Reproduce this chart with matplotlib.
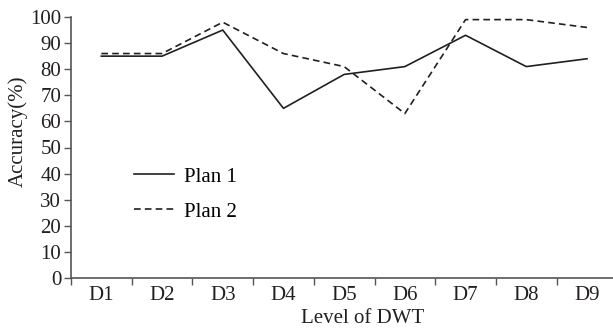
import matplotlib
matplotlib.use("Agg")
import matplotlib.pyplot as plt
import numpy as np

categories = ["D1", "D2", "D3", "D4", "D5", "D6", "D7", "D8", "D9"]
plan1 = [85, 85, 95, 65, 78, 81, 93, 81, 84]
plan2 = [86, 86, 98, 86, 81, 63, 99, 99, 96]
yticks = [0, 10, 20, 30, 40, 50, 60, 70, 80, 90, 100]

plt.rcParams['font.family'] = ['Liberation Serif', 'DejaVu Serif']
fig = plt.figure(figsize=(6.13, 3.29), dpi=100)
W, H = 613, 329
x0, x1 = 71, 617.3
y0, y1 = 278, 17
ax = fig.add_axes([x0 / W, 1 - y0 / H, (x1 - x0) / W, (y0 - y1) / H])

x = np.arange(len(categories))
col = '#231f20'
fs = 15
ax.plot(x, plan1, color=col, lw=1.2, ls='-', label='Plan 1')
ax.plot(x, plan2, color=col, lw=1.2, ls=(0, (4.0, 2.5)), label='Plan 2')

ax.set_xlim(-0.5, len(categories) - 0.5)
ax.set_ylim(0, 100)
ax.set_yticks(yticks)
ax.set_xticks(x)
ax.set_xticklabels(categories)
ax.set_xticks(np.arange(-0.5, len(categories), 1.0), minor=True)
ax.tick_params(axis='x', which='major', length=0, pad=6, labelsize=fs, colors=col)
ax.tick_params(axis='x', which='minor', length=5, width=1, direction='out', color='#555555')
ax.tick_params(axis='y', which='major', length=5, width=1, direction='out', pad=2, labelsize=fs, colors=col, color='#555555')

for s in ['top', 'right']:
    ax.spines[s].set_visible(False)
for s in ['left', 'bottom']:
    ax.spines[s].set_color('#555555')
    ax.spines[s].set_linewidth(1.2)

ax.set_xlabel('Level of DWT', fontsize=fs, color=col)
ax.xaxis.set_label_coords((363 - x0) / (x1 - x0), (y0 - 309) / (y0 - y1))
ax.set_ylabel('Accuracy(%)', fontsize=fs, color=col)
ax.yaxis.set_label_coords((28 - x0) / (x1 - x0), (y0 - 131) / (y0 - y1))

leg = ax.legend(loc='upper left', bbox_to_anchor=((134 - x0) / (x1 - x0), (y0 - 167) / (y0 - y1)),
                frameon=False, fontsize=fs, handlelength=1.9, handletextpad=0.5,
                labelspacing=0.74, borderaxespad=0, borderpad=0)

fig.savefig('out.png', dpi=100)
